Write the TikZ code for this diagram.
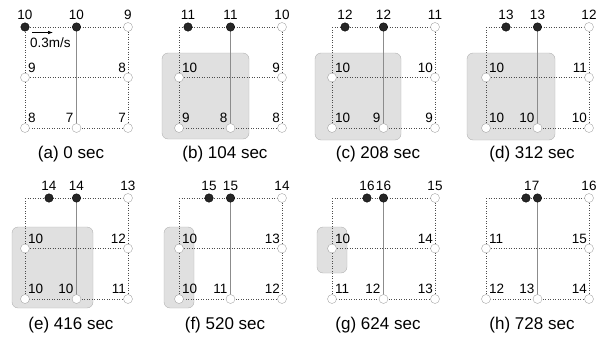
\documentclass[tikz,border=0pt]{standalone}
\usepackage{fontspec}
\setmainfont{Liberation Sans}
\usetikzlibrary{arrows.meta, calc}

% one snapshot: grid, sensors, caption
\newcommand{\gridpanel}[4]{%
  \begin{scope}[shift={#2}, name prefix=#1-]
    \coordinate (c11) at (0,0);
    \coordinate (c12) at (51.5,0);
    \coordinate (c13) at (103,0);
    \coordinate (c21) at (0,50.5);
    \coordinate (c23) at (103,50.5);
    \coordinate (c31) at (0,101);
    \coordinate (c32) at (51.5,101);
    \coordinate (c33) at (103,101);
    \draw[gridline] (c11) -- (c13) -- (c33) -- (c31) -- cycle;
    \draw[gridline] (c21) -- (c23);
    \draw[spine] (c12) -- (c32);
    \node[busy] (mov) at (#3,0) {};
    \node[busy] (fix) at (c12) {};
    \node[idle] (tr) at (c13) {};
    \node[idle] (ml) at (c21) {};
    \node[idle] (mr) at (c23) {};
    \node[idle] (bl) at (c31) {};
    \node[idle] (bm) at (c32) {};
    \node[idle] (br) at (c33) {};
    \node[capt] (cap) at (46,127) {#4};
  \end{scope}}

% the values next to the sensors
\newcommand{\gridvals}[9]{%
  \node[val, anchor=south, yshift=7pt] (#1-vmov) at (#1-mov) {#2};
  \node[val, anchor=south, yshift=7pt] (#1-vfix) at (#1-fix) {#3};
  \node[val, anchor=south, yshift=7pt] (#1-vtr) at (#1-tr) {#4};
  \node[val, anchor=south west, xshift=3pt, yshift=5pt] (#1-vml) at (#1-ml) {#5};
  \node[val, anchor=south east, xshift=-2pt, yshift=5pt] (#1-vmr) at (#1-mr) {#6};
  \node[val, anchor=south west, xshift=3pt, yshift=5pt] (#1-vbl) at (#1-bl) {#7};
  \node[val, anchor=south east, xshift=-3pt, yshift=5pt] (#1-vbm) at (#1-bm) {#8};
  \node[val, anchor=south east, xshift=-2pt, yshift=5pt] (#1-vbr) at (#1-br) {#9};
}

\begin{document}
\begin{tikzpicture}[
    x=1pt, y=-1pt,
    busy/.style={circle, draw=black, fill=black!85, minimum size=8.5pt, inner sep=0pt},
    idle/.style={circle, draw=black!35, fill=white, minimum size=9pt, inner sep=0pt},
    gridline/.style={dotted, black!70, line width=0.5pt},
    spine/.style={black!45, line width=0.45pt},
    zone/.style={draw=black!30, fill=black!12, rounded corners=6pt},
    val/.style={inner sep=0pt, font=\fontsize{13.5}{15}\selectfont},
    capt/.style={inner sep=0pt, font=\fontsize{17}{20}\selectfont},
]
\useasboundingbox (0,0) rectangle (605,340);

% === Shaded areas ===
\draw[zone] (162,53) rectangle (249,139);
\draw[zone] (315,53) rectangle (401,140);
\draw[zone] (467,53) rectangle (555,140);
\draw[zone] (12,227) rectangle (93,308);
\draw[zone] (164,227) rectangle (194,308);
\draw[zone] (317,227) rectangle (347,273);

% === Snapshots ===
\gridpanel{a}{(25,27)}{0}{(a) 0 sec}
\gridpanel{b}{(179,27)}{9}{(b) 104 sec}
\gridpanel{c}{(332,27)}{13}{(c) 208 sec}
\gridpanel{d}{(486,27)}{20}{(d) 312 sec}
\gridpanel{e}{(25,198)}{24}{(e) 416 sec}
\gridpanel{f}{(179,198)}{30}{(f) 520 sec}
\gridpanel{g}{(332,198)}{35}{(g) 624 sec}
\gridpanel{h}{(486,198)}{40}{(h) 728 sec}

% === Values ===
\gridvals{a}{10}{10}{9}{9}{8}{8}{7}{7}
\gridvals{b}{11}{11}{10}{10}{9}{9}{8}{8}
\gridvals{c}{12}{12}{11}{10}{10}{10}{9}{9}
\gridvals{d}{13}{13}{12}{10}{11}{10}{10}{10}
\gridvals{e}{14}{14}{13}{10}{12}{10}{10}{11}
\gridvals{f}{15}{15}{14}{10}{13}{10}{11}{12}
\gridvals{g}{16}{16}{15}{10}{14}{11}{12}{13}
\gridvals{h}{}{}{16}{11}{15}{12}{13}{14}
\node[val, anchor=south, yshift=7pt] (h-vpair) at ($(h-mov)!0.5!(h-fix)$) {17};

% === Speed of the moving sensor ===
\coordinate (vfrom) at (32,32.5);
\coordinate (vto) at (53,32.5);
\draw[-{Latex[length=5pt, width=3.5pt]}, line width=0.6pt] (vfrom) -- (vto);
\node[val, anchor=base west] (speed) at (30,47.5) {0.3m/s};

\end{tikzpicture}
\end{document}
